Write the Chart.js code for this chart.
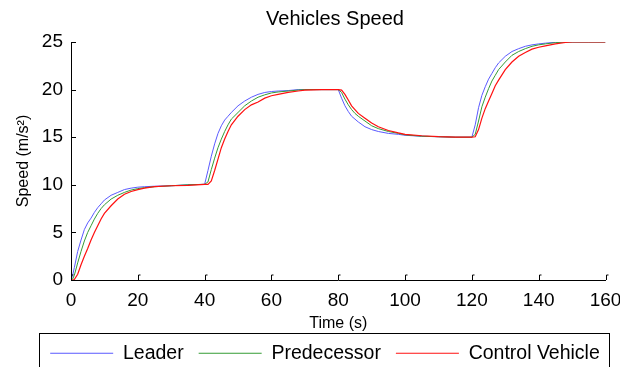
<!DOCTYPE html>
<html>
<head>
<meta charset="utf-8">
<script src="https://cdn.jsdelivr.net/npm/chart.js@4.4.0/dist/chart.umd.min.js"></script>
<style>
  html, body { margin: 0; padding: 0; background: #fff; }
  #wrap { width: 620px; height: 367px; }
</style>
</head>
<body>
<div id="wrap"><canvas id="speed" width="620" height="367"></canvas></div>
<script>
// sample times (s)
const times = [0, 0.5, 1, 2, 3, 4, 5, 6, 7, 8, 9, 10, 12, 14, 16, 18, 20, 22, 25, 30, 35, 40,
  41, 42, 43, 44, 45, 46, 47, 48, 50, 52, 54, 56, 58, 60, 62, 65, 68, 70, 75, 80,
  81, 82, 83, 84, 85, 86, 88, 90, 92, 95, 98, 100, 105, 110, 115, 120,
  121, 122, 123, 124, 125, 126, 127, 128, 130, 132, 134, 136, 138, 140, 142, 145, 148, 150, 155, 160];

// speeds (m/s)
const leader = [0, 0.5, 1.3, 3.0, 4.2, 5.3, 6.0, 6.5, 7.1, 7.6, 8.0, 8.4, 8.9, 9.2, 9.5, 9.65, 9.75, 9.8, 9.85, 9.9, 10.0, 10.05,
  11.5, 13.0, 14.3, 15.4, 16.2, 16.8, 17.2, 17.6, 18.3, 18.8, 19.2, 19.5, 19.7, 19.8, 19.85, 19.9, 20, 20, 20, 20,
  19.1, 18.3, 17.7, 17.2, 16.9, 16.6, 16.1, 15.8, 15.6, 15.4, 15.3, 15.2, 15.1, 15.05, 15, 15,
  16.3, 18.1, 19.4, 20.3, 21.1, 21.7, 22.3, 22.8, 23.5, 24.0, 24.3, 24.55, 24.7, 24.8, 24.88, 24.97, 25, 25, 25, 25];

const predecessor = [0, 0.1, 0.5, 1.8, 3.0, 4.1, 5.0, 5.7, 6.4, 7.0, 7.5, 7.9, 8.5, 8.9, 9.2, 9.45, 9.6, 9.7, 9.8, 9.9, 10.0, 10.05,
  10.3, 11.6, 12.8, 13.9, 14.8, 15.6, 16.3, 16.9, 17.6, 18.3, 18.8, 19.2, 19.45, 19.65, 19.75, 19.85, 19.95, 20, 20, 20,
  19.7, 19.0, 18.4, 17.9, 17.5, 17.2, 16.7, 16.2, 15.9, 15.6, 15.4, 15.25, 15.1, 15.05, 15, 15,
  15.3, 16.7, 18.2, 19.2, 20.1, 20.9, 21.5, 22.1, 22.9, 23.6, 24.0, 24.3, 24.55, 24.7, 24.8, 24.93, 25, 25, 25, 25];

const control = [0, 0, 0.05, 0.6, 1.6, 2.5, 3.3, 4.2, 5.0, 5.7, 6.4, 7.0, 7.8, 8.5, 9.0, 9.3, 9.5, 9.65, 9.8, 9.9, 9.95, 10.05,
  10.05, 10.4, 11.5, 12.7, 13.9, 14.8, 15.6, 16.3, 17.2, 17.9, 18.4, 18.7, 19.1, 19.35, 19.5, 19.7, 19.85, 19.95, 20, 20,
  19.95, 19.5, 18.9, 18.3, 17.9, 17.5, 17.0, 16.5, 16.1, 15.7, 15.45, 15.3, 15.15, 15.05, 15, 15,
  15.05, 15.8, 17.0, 18.0, 18.8, 19.6, 20.4, 21.0, 22.1, 22.9, 23.5, 23.9, 24.25, 24.45, 24.6, 24.8, 24.95, 25, 25, 25];

const xTicks = [0, 20, 40, 60, 80, 100, 120, 140, 160];
const yTicks = [0, 5, 10, 15, 20, 25];

const FONT = "'Liberation Sans', Arial, sans-serif";
Chart.defaults.font.family = FONT;
Chart.defaults.color = '#000';

const toPoints = ys => times.map((t, i) => ({ x: t, y: ys[i] }));

// title/legend placement, matlab-style inward ticks and the legend frame
const axisDecor = {
  id: 'axisDecor',
  afterLayout(chart) {
    const tb = chart.titleBlock;
    tb.left = 64;
    tb.right = 606;
    const lg = chart.legend;
    lg.maxWidth = 650;
    lg.fit(); // one row across the full width
    const h = lg.height;
    lg.left = 25;
    lg.right = 625;
    lg.top = 328.5;
    lg.bottom = lg.top + h;
  },
  afterDraw(chart) {
    const { ctx, chartArea: a, scales: { x, y } } = chart;
    ctx.save();
    ctx.strokeStyle = '#000';
    ctx.lineWidth = 1;
    ctx.beginPath();
    x.ticks.forEach(t => {
      const px = Math.round(x.getPixelForValue(t.value)) + 0.5;
      ctx.moveTo(px, a.bottom);
      ctx.lineTo(px, a.bottom - 5);
      ctx.lineTo(px + 2, a.bottom - 5);
    });
    y.ticks.forEach(t => {
      const py = Math.round(y.getPixelForValue(t.value)) + 0.5;
      ctx.moveTo(a.left, py);
      ctx.lineTo(a.left + 5, py);
    });
    ctx.stroke();
    ctx.strokeRect(39.5, 333.5, 570, 40);
    ctx.restore();
  }
};

new Chart(document.getElementById('speed'), {
  type: 'line',
  data: {
    datasets: [
      { label: 'Leader', data: toPoints(leader), borderColor: '#5a5aff', borderWidth: 1, order: 2 },
      { label: 'Predecessor', data: toPoints(predecessor), borderColor: '#359c35', borderWidth: 1, order: 1 },
      { label: 'Control Vehicle', data: toPoints(control), borderColor: '#ff1010', borderWidth: 1.2, order: 0 }
    ]
  },
  options: {
    responsive: false,
    animation: false,
    layout: { padding: { left: 0, right: 14.5, top: 0, bottom: 0 } },
    elements: {
      point: { radius: 0 },
      line: { tension: 0, fill: false }
    },
    plugins: {
      tooltip: { enabled: false },
      title: {
        display: true,
        text: 'Vehicles Speed',
        color: '#000',
        font: { size: 20, weight: 'normal' },
        padding: { top: 7, bottom: 11 }
      },
      legend: {
        position: 'bottom',
        maxHeight: 34,
        labels: {
          usePointStyle: true,
          pointStyle: 'line',
          pointStyleWidth: 63,
          padding: 15,
          color: '#000',
          font: { size: 19.5 },
          sort: (a, b) => a.datasetIndex - b.datasetIndex
        }
      }
    },
    scales: {
      x: {
        type: 'linear',
        min: xTicks[0],
        max: xTicks[xTicks.length - 1],
        afterBuildTicks: s => { s.ticks = xTicks.map(v => ({ value: v })); },
        afterFit: s => { s.height = 53; s.paddingRight = 0; },
        grid: { display: false, drawTicks: false },
        border: { display: true, color: '#000', width: 1 },
        ticks: { padding: 9, font: { size: 19 }, color: '#000', maxRotation: 0 },
        title: { display: true, text: 'Time (s)', color: '#000', font: { size: 16 }, padding: { top: 0, bottom: 0 } }
      },
      y: {
        min: yTicks[0],
        max: yTicks[yTicks.length - 1],
        afterBuildTicks: s => { s.ticks = yTicks.map(v => ({ value: v })); },
        afterFit: s => { s.width = 71; },
        grid: { display: false, drawTicks: false },
        border: { display: true, color: '#000', width: 1 },
        ticks: { padding: 8, font: { size: 19 }, color: '#000' },
        title: { display: true, text: 'Speed (m/s²)', color: '#000', font: { size: 16 }, padding: { top: 14, bottom: 0 } }
      }
    }
  },
  plugins: [axisDecor]
});
</script>
</body>
</html>
